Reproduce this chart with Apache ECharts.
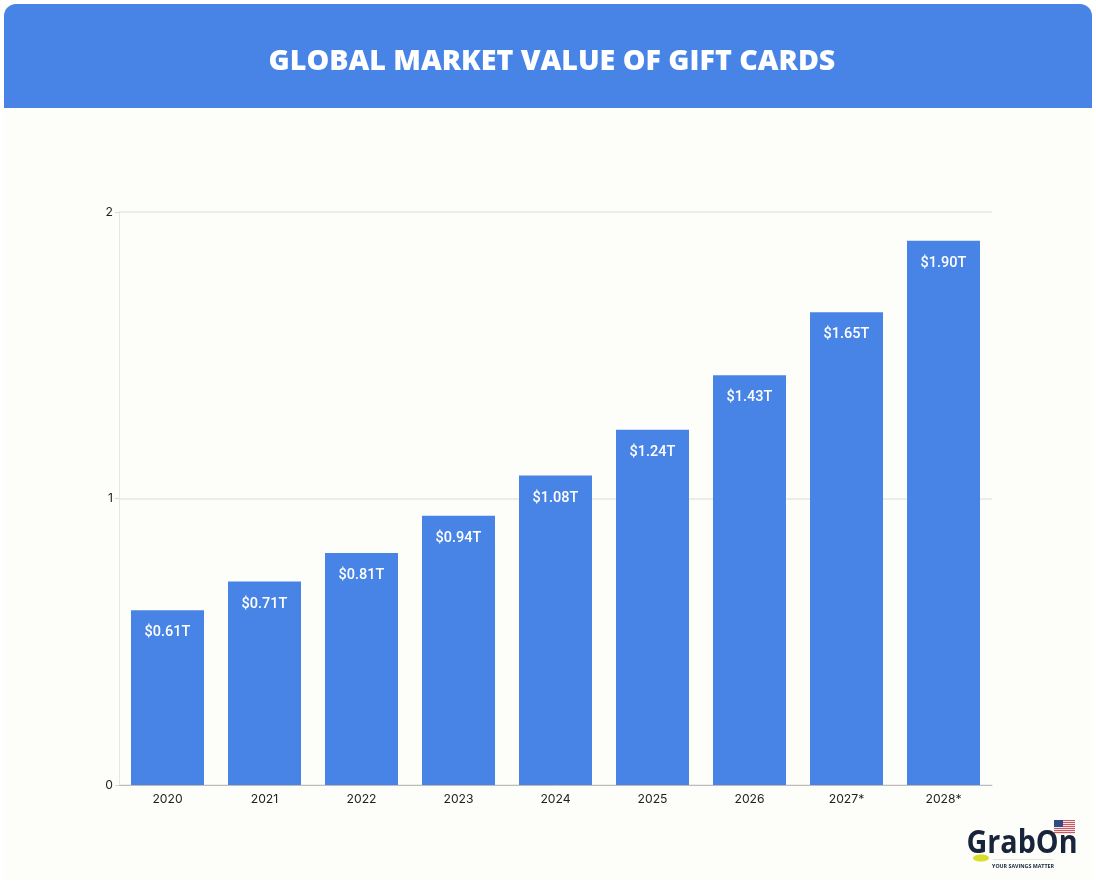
<!DOCTYPE html>
<html>
<head>
<meta charset="utf-8">
<style>
html,body{margin:0;padding:0;background:#ffffff}
#chart{width:1096px;height:883px}
</style>
<script src="https://cdn.jsdelivr.net/npm/echarts@6/dist/echarts.min.js"></script>
</head>
<body>
<div id="chart"></div>
<script>
const years = ['2020','2021','2022','2023','2024','2025','2026','2027*','2028*'];
const marketValue = [0.61,0.71,0.81,0.94,1.08,1.24,1.43,1.65,1.90];
const valueTicks = [0,1,2];
const heading = 'GLOBAL MARKET VALUE OF GIFT CARDS';
const blue = '#4884e6';

// US flag above the brand mark: stripes plus canton
const flagStripes = [];
for (let i = 0; i < 7; i++) {
  flagStripes.push({type:'rect',silent:true,z:10,
    shape:{x:1054,y:820+i*2,width:21,height:1},
    style:{fill:'#cf5560'}});
}

const chart = echarts.init(document.getElementById('chart'), null, {renderer:'canvas'});
chart.setOption({
  animation:false,
  backgroundColor:'#ffffff',
  grid:{left:119,right:104,top:212,bottom:98},
  xAxis:{
    type:'category',data:years,
    axisLine:{lineStyle:{color:'#bdbdbd',width:1}},
    axisTick:{show:false},
    axisLabel:{color:'#1f1f1f',fontFamily:'Inter',fontSize:12.2,margin:8}
  },
  yAxis:{
    type:'value',min:valueTicks[0],max:valueTicks[2],interval:1,
    axisLine:{show:true,lineStyle:{color:'#e6e6e2',width:1}},
    axisTick:{show:true,length:4,lineStyle:{color:'#d8d8d4'}},
    axisLabel:{color:'#1f1f1f',fontFamily:'Inter',fontSize:12.2,margin:6},
    splitLine:{lineStyle:{color:'#e6e6e2',width:1.5}}
  },
  series:[{
    type:'bar',data:marketValue,barWidth:73,
    itemStyle:{color:blue},
    label:{show:true,position:'insideTop',distance:15,color:'#ffffff',
      fontFamily:'Roboto',fontWeight:500,fontSize:14.5,
      formatter:p=>'$'+p.value.toFixed(2)+'T'}
  }],
  graphic:{elements:[
    {type:'rect',z:-10,silent:true,shape:{x:4,y:4,width:1088,height:876},style:{fill:'#fdfefa'}},
    {type:'rect',z:-9,silent:true,shape:{x:4,y:4,width:1088,height:104,r:[12,12,0,0]},style:{fill:blue}},
    {type:'text',z:10,silent:true,x:552,y:62,
      style:{text:heading,fill:'#ffffff',font:'800 28.6px "Open Sans"',align:'center',verticalAlign:'middle'}},
    {type:'text',z:10,silent:true,x:1022,y:844,scaleX:0.87,
      style:{text:'GrabOn',fill:'#18243a',font:'700 33px "Open Sans"',align:'center',verticalAlign:'middle',letterSpacing:-1}},
    {type:'ellipse',z:9,silent:true,shape:{cx:981,cy:858,rx:8,ry:3.5},style:{fill:'#d6de2a'}},
    {type:'rect',z:9,silent:true,shape:{x:993,y:859,width:60,height:1},style:{fill:'#e2e2de'}},
    {type:'text',z:10,silent:true,x:1023,y:866,
      style:{text:'YOUR SAVINGS MATTER',fill:'#18243a',font:'700 5.3px "Open Sans"',align:'center',verticalAlign:'middle'}},
    {type:'rect',z:9,silent:true,shape:{x:1054,y:820,width:21,height:14},style:{fill:'#f1e4e6'}},
    ...flagStripes,
    {type:'rect',z:11,silent:true,shape:{x:1054,y:820,width:9,height:7},style:{fill:'#2f4a86'}}
  ]}
});
</script>
</body>
</html>
